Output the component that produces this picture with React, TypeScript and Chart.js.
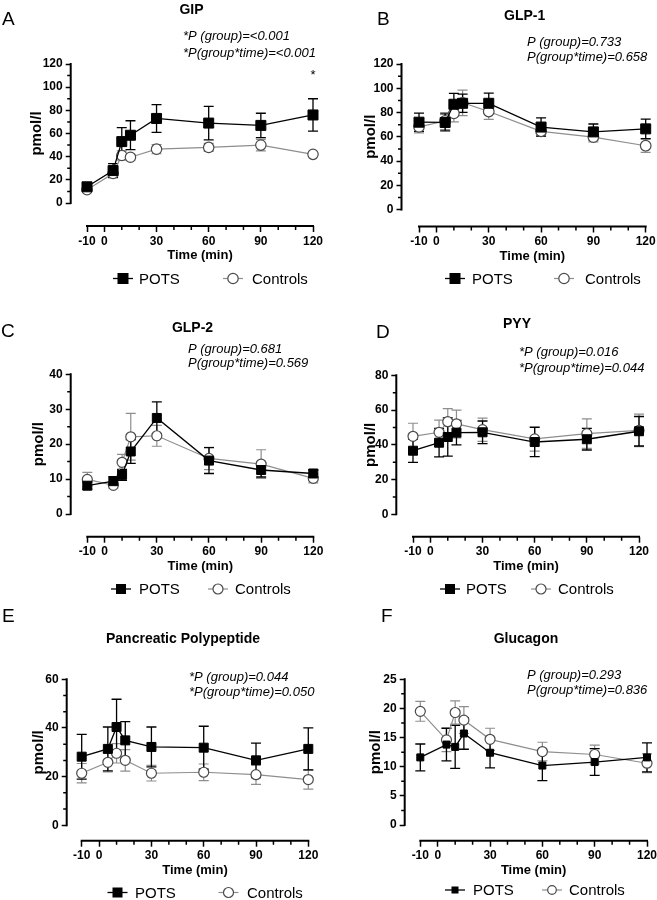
import React, { useEffect, useRef } from "react";
import { Chart, registerables } from "chart.js";

Chart.register(...registerables);

const FONT = '"Liberation Sans", Arial, Helvetica, sans-serif';
const GREY = "#8e8e8e";
const CIRCLE_EDGE = "#4a4a4a";

const TIMES = [-10, 5, 10, 15, 30, 60, 90, 120];
const X_MAJOR_TICKS = [-10, 0, 30, 60, 90, 120];
const X_MINOR_TICKS = [10, 20, 40, 50, 70, 80, 100, 110];
const SERIES_NAMES = ["POTS", "Controls"];
const Y_TITLE = "pmol/l";
const X_TITLE = "Time (min)";

const GIP_POTS = [14, 28, 53, 58.5, 73, 69, 67, 76];
const GIP_POTS_SEM = [2, 6, 12, 12.5, 12, 14.5, 10.5, 14];
const GIP_CTRL = [11.5, 25.5, 41, 39.5, 46.5, 48, 50, 42];
const GIP_CTRL_SEM = [1.5, 3, 4, 2.5, 4, 3.5, 5, 2];
const GIP_Y_MAJOR = [0, 20, 40, 60, 80, 100, 120];
const GIP_Y_MINOR = [10, 30, 50, 70, 90, 110];
const GIP_P = ["*P (group)=<0.001", "*P(group*time)=<0.001"];

const GLP1_POTS = [72, 71.8, 86.8, 87.6, 87.6, 68, 64, 66.5];
const GLP1_POTS_SEM = [7.5, 7, 9, 7.5, 8.3, 7.5, 6.5, 8];
const GLP1_CTRL = [68.2, 73, 79.3, 88, 80.8, 64.5, 59.7, 52.6];
const GLP1_CTRL_SEM = [5, 7, 7, 10.5, 6.5, 4, 4, 5.5];
const GLP1_Y_MAJOR = [0, 20, 40, 60, 80, 100, 120];
const GLP1_Y_MINOR = [10, 30, 50, 70, 90, 110];
const GLP1_P = ["P (group)=0.733", "P(group*time)=0.658"];

const GLP2_POTS = [8.1, 9.4, 11.2, 17.9, 27.5, 15.3, 12.6, 11.6];
const GLP2_POTS_SEM = [1, 1.3, 1.6, 3.4, 4.6, 3.7, 2, 1];
const GLP2_CTRL = [9.9, 8.2, 14.8, 22.1, 22.4, 15.9, 14.3, 10.2];
const GLP2_CTRL_SEM = [2, 0.8, 2.3, 6.7, 3, 3.2, 4.1, 1.3];
const GLP2_Y_MAJOR = [0, 10, 20, 30, 40];
const GLP2_Y_MINOR = [5, 15, 25, 35];
const GLP2_P = ["P (group)=0.681", "P(group*time)=0.569"];

const PYY_POTS = [36.6, 41.2, 44.5, 47, 47.2, 41.6, 43.2, 47.8];
const PYY_POTS_SEM = [6.7, 8.2, 11, 7, 6.5, 8.4, 6.2, 8.5];
const PYY_CTRL = [44.9, 47.2, 53.3, 52, 48.7, 43.4, 46.4, 48.3];
const PYY_CTRL_SEM = [7.5, 7, 7.5, 8, 6.7, 7, 8.5, 9.4];
const PYY_Y_MAJOR = [0, 20, 40, 60, 80];
const PYY_Y_MINOR = [10, 30, 50, 70];
const PYY_P = ["*P (group)=0.016", "*P(group*time)=0.044"];

const PP_POTS = [28.2, 31.4, 40.4, 34.9, 32.2, 31.9, 26.7, 31.4];
const PP_POTS_SEM = [9.2, 9, 11.4, 7.7, 8.2, 8.8, 7.1, 8.6];
const PP_CTRL = [21.4, 25.9, 29.6, 26.7, 21.4, 21.8, 20.8, 18.8];
const PP_CTRL_SEM = [4, 4, 4, 4.4, 3.2, 3.4, 4, 3.9];
const PP_Y_MAJOR = [0, 20, 40, 60];
const PP_Y_MINOR = [6.667, 13.333, 26.667, 33.333, 46.667, 53.333];
const PP_P = ["*P (group)=0.044", "*P(group*time)=0.050"];

const GCG_POTS = [11.6, 13.8, 13.4, 15.7, 12.4, 10.2, 10.8, 11.6];
const GCG_POTS_SEM = [2.3, 2.8, 3.7, 2.7, 2.6, 2.6, 2.3, 2.5];
const GCG_CTRL = [19.5, 14.6, 19.3, 18, 14.7, 12.6, 12.1, 10.6];
const GCG_CTRL_SEM = [1.7, 2, 2, 2.3, 1.9, 1.6, 1.6, 1.6];
const GCG_Y_MAJOR = [0, 5, 10, 15, 20, 25];
const GCG_Y_MINOR = [2.5, 7.5, 12.5, 17.5, 22.5];
const GCG_P = ["P (group)=0.293", "P(group*time)=0.836"];

type Spec = {
  key: string;
  letter: string;
  letterPos: [number, number];
  title: string;
  titlePos: [number, number];
  pLines: string[];
  pX: number;
  pY: number[];
  box: { x: number; y: number; w: number; h: number };
  yAxisX: number;
  yTopPx: number;
  yZeroPx: number;
  xAxisY: number;
  xStartPx: number;
  xEndPx: number;
  yMax: number;
  yMajor: number[];
  yMinor: number[];
  pots: number[];
  potsSem: number[];
  ctrl: number[];
  ctrlSem: number[];
  sq: number;
  circ: number;
  yTitleX: number;
  legend: { cy: number; pm: number; pt: number; cm: number; ct: number; sq: number; circ: number };
  star?: { t: number; y: number };
};

const PANELS: Spec[] = [
  {
    key: "A", letter: "A", letterPos: [2, 25], title: "GIP", titlePos: [191.5, 13.5],
    pLines: GIP_P, pX: 183, pY: [40, 57],
    box: { x: 0, y: 0, w: 330, h: 300 },
    yAxisX: 70.7, yTopPx: 64, yZeroPx: 203, xAxisY: 226, xStartPx: 87, xEndPx: 313,
    yMax: 120, yMajor: GIP_Y_MAJOR, yMinor: GIP_Y_MINOR,
    pots: GIP_POTS, potsSem: GIP_POTS_SEM, ctrl: GIP_CTRL, ctrlSem: GIP_CTRL_SEM,
    sq: 11, circ: 5.2, yTitleX: 41,
    legend: { cy: 278.5, pm: 123, pt: 139, cm: 233, ct: 252, sq: 11, circ: 5.2 },
    star: { t: 120, y: 79 },
  },
  {
    key: "B", letter: "B", letterPos: [377, 25], title: "GLP-1", titlePos: [524.6, 20],
    pLines: GLP1_P, pX: 527, pY: [46, 61],
    box: { x: 328, y: 0, w: 329, h: 300 },
    yAxisX: 401.5, yTopPx: 64, yZeroPx: 209.5, xAxisY: 226.5, xStartPx: 419, xEndPx: 645.7,
    yMax: 120, yMajor: GLP1_Y_MAJOR, yMinor: GLP1_Y_MINOR,
    pots: GLP1_POTS, potsSem: GLP1_POTS_SEM, ctrl: GLP1_CTRL, ctrlSem: GLP1_CTRL_SEM,
    sq: 11, circ: 5.3, yTitleX: 375,
    legend: { cy: 278.5, pm: 455, pt: 472, cm: 564, ct: 585, sq: 11, circ: 5.2 },
  },
  {
    key: "C", letter: "C", letterPos: [1, 337], title: "GLP-2", titlePos: [192.5, 332],
    pLines: GLP2_P, pX: 188, pY: [353, 367],
    box: { x: 0, y: 290, w: 330, h: 310 },
    yAxisX: 70.7, yTopPx: 374.3, yZeroPx: 514, xAxisY: 536.7, xStartPx: 87.3, xEndPx: 313.3,
    yMax: 40, yMajor: GLP2_Y_MAJOR, yMinor: GLP2_Y_MINOR,
    pots: GLP2_POTS, potsSem: GLP2_POTS_SEM, ctrl: GLP2_CTRL, ctrlSem: GLP2_CTRL_SEM,
    sq: 10, circ: 5, yTitleX: 43,
    legend: { cy: 589, pm: 121, pt: 139, cm: 218, ct: 235, sq: 10, circ: 5 },
  },
  {
    key: "D", letter: "D", letterPos: [376, 338], title: "PYY", titlePos: [517, 328],
    pLines: PYY_P, pX: 519, pY: [356, 372],
    box: { x: 328, y: 290, w: 329, h: 310 },
    yAxisX: 396.3, yTopPx: 375.3, yZeroPx: 514.3, xAxisY: 536.7, xStartPx: 413, xEndPx: 639,
    yMax: 80, yMajor: PYY_Y_MAJOR, yMinor: PYY_Y_MINOR,
    pots: PYY_POTS, potsSem: PYY_POTS_SEM, ctrl: PYY_CTRL, ctrlSem: PYY_CTRL_SEM,
    sq: 10, circ: 5, yTitleX: 375,
    legend: { cy: 589, pm: 450, pt: 466, cm: 541, ct: 558, sq: 10, circ: 5 },
  },
  {
    key: "E", letter: "E", letterPos: [2, 622], title: "Pancreatic Polypeptide", titlePos: [183, 643],
    pLines: PP_P, pX: 189, pY: [681, 696],
    box: { x: 0, y: 590, w: 330, h: 310 },
    yAxisX: 66.7, yTopPx: 679.3, yZeroPx: 825.3, xAxisY: 840.7, xStartPx: 81.7, xEndPx: 308.3,
    yMax: 60, yMajor: PP_Y_MAJOR, yMinor: PP_Y_MINOR,
    pots: PP_POTS, potsSem: PP_POTS_SEM, ctrl: PP_CTRL, ctrlSem: PP_CTRL_SEM,
    sq: 10, circ: 5, yTitleX: 42.5,
    legend: { cy: 892.5, pm: 117.5, pt: 135, cm: 228.5, ct: 247, sq: 10, circ: 5 },
  },
  {
    key: "F", letter: "F", letterPos: [381, 622], title: "Glucagon", titlePos: [526, 643],
    pLines: GCG_P, pX: 527, pY: [679, 694],
    box: { x: 328, y: 590, w: 329, h: 310 },
    yAxisX: 404.7, yTopPx: 679.3, yZeroPx: 825, xAxisY: 840.7, xStartPx: 420.3, xEndPx: 647,
    yMax: 25, yMajor: GCG_Y_MAJOR, yMinor: GCG_Y_MINOR,
    pots: GCG_POTS, potsSem: GCG_POTS_SEM, ctrl: GCG_CTRL, ctrlSem: GCG_CTRL_SEM,
    sq: 8, circ: 5, yTitleX: 380,
    legend: { cy: 890, pm: 455, pt: 473, cm: 552, ct: 569, sq: 7, circ: 4.3 },
  },
];

const Y_W = 40;
const X_H = 25;

function makePlugin(p: Spec) {
  const ox = p.box.x;
  const oy = p.box.y;
  return {
    id: "decor" + p.key,
    beforeDatasetsDraw(chart: any) {
      const { ctx, chartArea: ca } = chart;
      const x = chart.scales.x;
      const y = chart.scales.y;
      ctx.save();
      ctx.strokeStyle = "#000";
      ctx.lineCap = "butt";
      ctx.lineWidth = 2;
      ctx.beginPath();
      ctx.moveTo(ca.left, y.getPixelForValue(p.yMax) - 1);
      ctx.lineTo(ca.left, y.getPixelForValue(0) + 1);
      ctx.moveTo(x.getPixelForValue(X_MAJOR_TICKS[0]) - 1, ca.bottom);
      ctx.lineTo(x.getPixelForValue(X_MAJOR_TICKS[X_MAJOR_TICKS.length - 1]) + 1, ca.bottom);
      ctx.stroke();
      ctx.lineWidth = 1.5;
      ctx.beginPath();
      p.yMinor.forEach((v) => {
        const py = y.getPixelForValue(v);
        ctx.moveTo(ca.left, py);
        ctx.lineTo(ca.left - 3.5, py);
      });
      X_MINOR_TICKS.forEach((v) => {
        const px = x.getPixelForValue(v);
        ctx.moveTo(px, ca.bottom);
        ctx.lineTo(px, ca.bottom + 4);
      });
      ctx.stroke();
      const bars = (vals: number[], sems: number[], color: string, w: number) => {
        ctx.strokeStyle = color;
        ctx.lineWidth = w;
        ctx.beginPath();
        vals.forEach((v, i) => {
          const px = x.getPixelForValue(TIMES[i]);
          const hi = y.getPixelForValue(v + sems[i]);
          const lo = y.getPixelForValue(v - sems[i]);
          ctx.moveTo(px, hi);
          ctx.lineTo(px, lo);
          ctx.moveTo(px - 5, hi);
          ctx.lineTo(px + 5, hi);
          ctx.moveTo(px - 5, lo);
          ctx.lineTo(px + 5, lo);
        });
        ctx.stroke();
      };
      bars(p.ctrl, p.ctrlSem, GREY, 1.2);
      bars(p.pots, p.potsSem, "#000", 1.3);
      ctx.restore();
    },
    afterDraw(chart: any) {
      const { ctx, chartArea: ca } = chart;
      const x = chart.scales.x;
      const y = chart.scales.y;
      ctx.save();
      ctx.fillStyle = "#000";
      ctx.textBaseline = "alphabetic";
      ctx.textAlign = "left";
      ctx.font = `19px ${FONT}`;
      ctx.fillText(p.letter, p.letterPos[0] - ox, p.letterPos[1] - oy);
      ctx.textAlign = "center";
      ctx.font = `bold 14px ${FONT}`;
      ctx.fillText(p.title, p.titlePos[0] - ox, p.titlePos[1] - oy);
      ctx.textAlign = "left";
      ctx.font = `italic 13px ${FONT}`;
      p.pLines.forEach((s, i) => ctx.fillText(s, p.pX - ox, p.pY[i] - oy));
      if (p.star) {
        ctx.textAlign = "center";
        ctx.font = `13px ${FONT}`;
        ctx.fillText("*", x.getPixelForValue(p.star.t), p.star.y - oy);
      }
      ctx.save();
      ctx.translate(p.yTitleX - ox, (y.getPixelForValue(0) + y.getPixelForValue(p.yMax)) / 2);
      ctx.rotate(-Math.PI / 2);
      ctx.textAlign = "center";
      ctx.font = `bold 15px ${FONT}`;
      ctx.fillText(Y_TITLE, 0, 0);
      ctx.restore();
      ctx.textAlign = "center";
      ctx.font = `bold 13px ${FONT}`;
      const xMid = (x.getPixelForValue(X_MAJOR_TICKS[0]) + x.getPixelForValue(X_MAJOR_TICKS[X_MAJOR_TICKS.length - 1])) / 2;
      ctx.fillText(X_TITLE, xMid, ca.bottom + 33);
      const lg = p.legend;
      const cy = lg.cy - oy;
      ctx.lineWidth = 1.3;
      ctx.strokeStyle = "#000";
      ctx.beginPath();
      ctx.moveTo(lg.pm - ox - 10, cy);
      ctx.lineTo(lg.pm - ox + 10, cy);
      ctx.stroke();
      ctx.fillRect(lg.pm - ox - lg.sq / 2, cy - lg.sq / 2, lg.sq, lg.sq);
      ctx.strokeStyle = GREY;
      ctx.lineWidth = 1.2;
      ctx.beginPath();
      ctx.moveTo(lg.cm - ox - 10, cy);
      ctx.lineTo(lg.cm - ox + 10, cy);
      ctx.stroke();
      ctx.beginPath();
      ctx.arc(lg.cm - ox, cy, lg.circ, 0, Math.PI * 2);
      ctx.fillStyle = "#fff";
      ctx.fill();
      ctx.strokeStyle = CIRCLE_EDGE;
      ctx.stroke();
      ctx.fillStyle = "#000";
      ctx.textAlign = "left";
      ctx.font = `15px ${FONT}`;
      ctx.fillText(SERIES_NAMES[0], lg.pt - ox, cy + 5.4);
      ctx.fillText(SERIES_NAMES[1], lg.ct - ox, cy + 5.4);
      ctx.restore();
    },
  };
}

function buildConfig(p: Spec): any {
  const ox = p.box.x;
  const oy = p.box.y;
  const L = p.yAxisX - ox;
  const T = p.yTopPx - oy;
  const B = p.xAxisY - oy;
  const R = p.xEndPx - ox;
  const y0 = p.yZeroPx - oy;
  const xs = p.xStartPx - ox;
  const xFirst = X_MAJOR_TICKS[0];
  const xLast = X_MAJOR_TICKS[X_MAJOR_TICKS.length - 1];
  const yMin = (-p.yMax * (B - y0)) / (y0 - T);
  const xMin = xFirst - ((xLast - xFirst) * (xs - L)) / (R - xs);
  const tickFont = { family: FONT, size: 12, weight: "bold" as const };
  const pts = (vals: number[]) => vals.map((v, i) => ({ x: TIMES[i], y: v }));
  return {
    type: "line",
    data: {
      datasets: [
        {
          label: SERIES_NAMES[0],
          data: pts(p.pots),
          borderColor: "#000",
          borderWidth: 1.3,
          pointStyle: "rect",
          pointRadius: (p.sq - 1) / Math.SQRT2,
          pointBackgroundColor: "#000",
          pointBorderColor: "#000",
          pointBorderWidth: 1,
          tension: 0,
          clip: false,
          order: 0,
        },
        {
          label: SERIES_NAMES[1],
          data: pts(p.ctrl),
          borderColor: GREY,
          borderWidth: 1.2,
          pointStyle: "circle",
          pointRadius: p.circ,
          pointBackgroundColor: "#fff",
          pointBorderColor: CIRCLE_EDGE,
          pointBorderWidth: 1.2,
          tension: 0,
          clip: false,
          order: 1,
        },
      ],
    },
    options: {
      responsive: false,
      animation: false,
      devicePixelRatio: 1,
      events: [],
      layout: {
        padding: { left: L - Y_W, top: T, right: p.box.w - R, bottom: p.box.h - B - X_H },
      },
      plugins: {
        legend: { display: false },
        title: { display: false },
        tooltip: { enabled: false },
      },
      scales: {
        x: {
          type: "linear",
          min: xMin,
          max: xLast,
          afterBuildTicks: (s: any) => {
            s.ticks = X_MAJOR_TICKS.map((v) => ({ value: v }));
          },
          afterFit: (s: any) => {
            s.height = X_H;
            s.paddingLeft = 0;
            s.paddingRight = 0;
          },
          border: { display: false },
          grid: {
            display: true,
            drawOnChartArea: false,
            drawTicks: true,
            tickLength: 6,
            tickWidth: 1.5,
            tickColor: "#000",
            color: "#000",
          },
          ticks: {
            autoSkip: false,
            maxRotation: 0,
            minRotation: 0,
            padding: 2,
            color: "#000",
            font: tickFont,
            callback: (v: any) => String(v),
          },
        },
        y: {
          type: "linear",
          min: yMin,
          max: p.yMax,
          afterBuildTicks: (s: any) => {
            s.ticks = p.yMajor.map((v) => ({ value: v }));
          },
          afterFit: (s: any) => {
            s.width = Y_W;
            s.paddingTop = 0;
            s.paddingBottom = 0;
          },
          border: { display: false },
          grid: {
            display: true,
            drawOnChartArea: false,
            drawTicks: true,
            tickLength: 5,
            tickWidth: 1.5,
            tickColor: "#000",
            color: "#000",
          },
          ticks: {
            autoSkip: false,
            padding: 3,
            color: "#000",
            font: tickFont,
            callback: (v: any) => String(v),
          },
        },
      },
    },
    plugins: [makePlugin(p)],
  };
}

function Panel({ spec }: { spec: Spec }) {
  const ref = useRef<HTMLCanvasElement | null>(null);
  useEffect(() => {
    if (!ref.current) return;
    const chart = new Chart(ref.current, buildConfig(spec));
    return () => chart.destroy();
  }, [spec]);
  return (
    <canvas
      ref={ref}
      width={spec.box.w}
      height={spec.box.h}
      style={{
        position: "absolute",
        left: spec.box.x,
        top: spec.box.y,
        width: spec.box.w,
        height: spec.box.h,
      }}
    />
  );
}

export default function App() {
  return (
    <div
      style={{
        position: "absolute",
        left: 0,
        top: 0,
        width: 657,
        height: 900,
        overflow: "hidden",
        background: "#fff",
      }}
    >
      {PANELS.map((p) => (
        <Panel key={p.key} spec={p} />
      ))}
    </div>
  );
}
